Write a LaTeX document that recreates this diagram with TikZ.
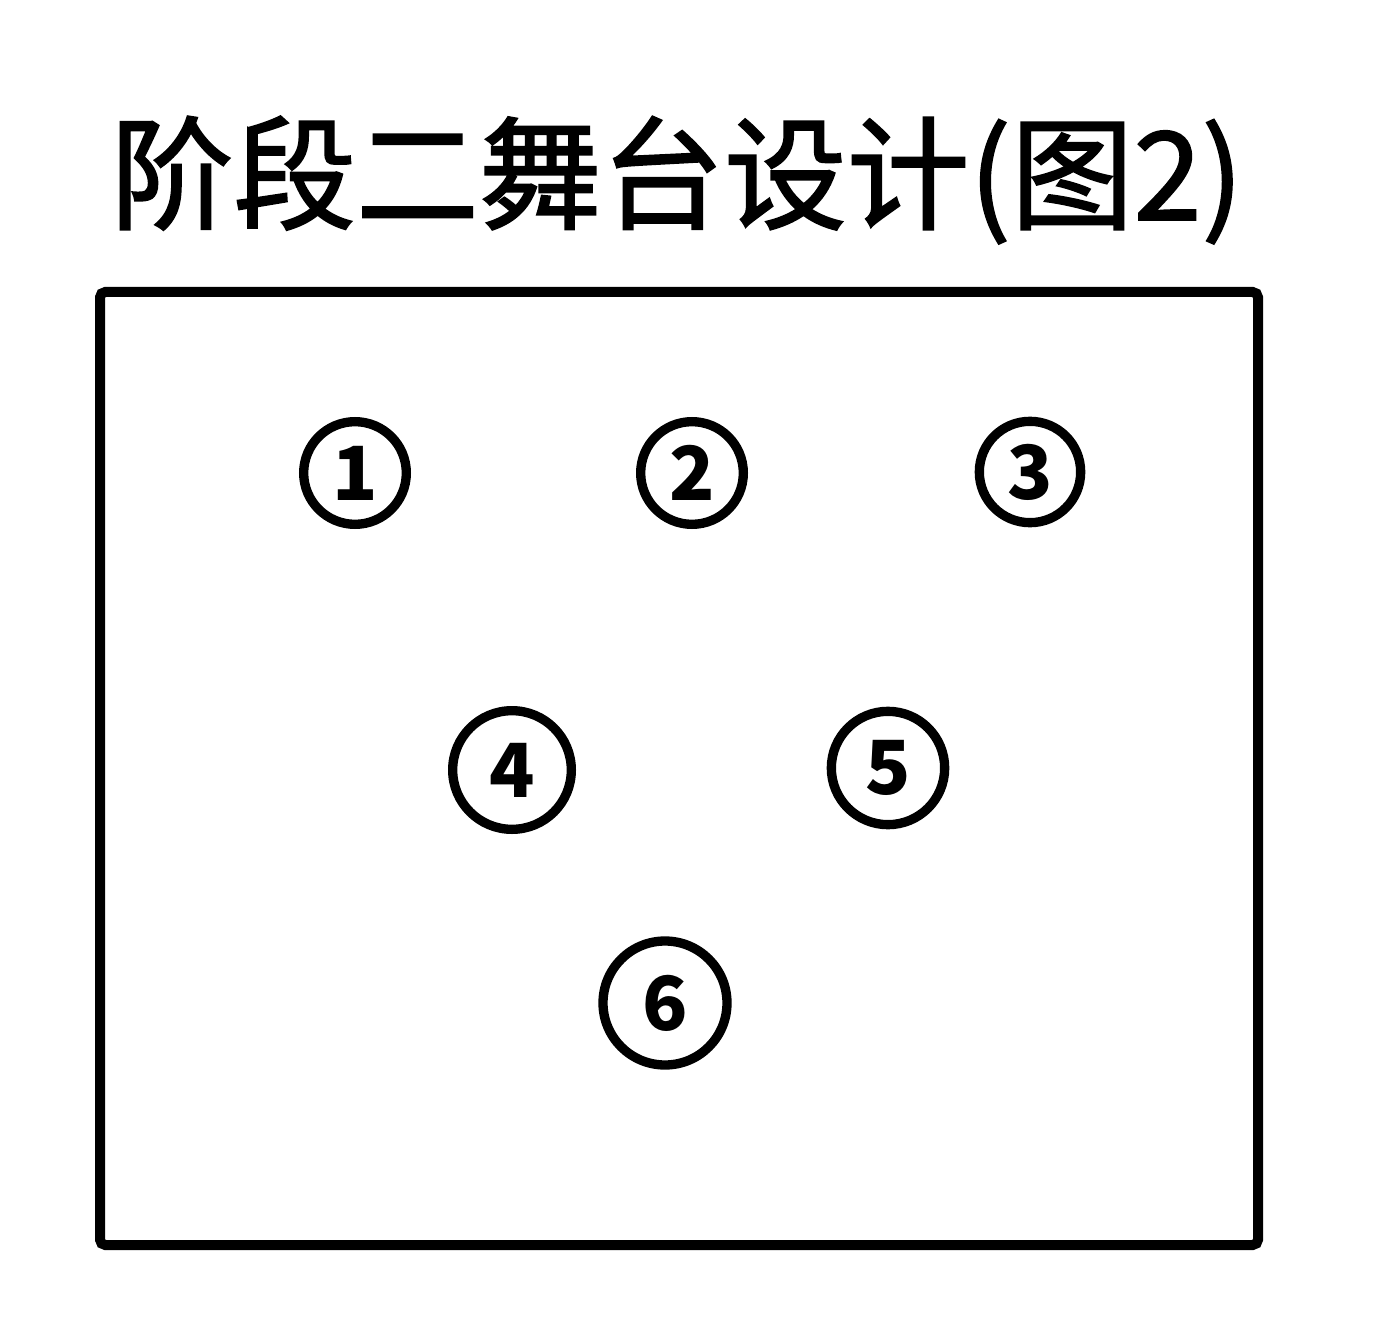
\documentclass[tikz,border=0pt]{standalone}
\usepackage{fontspec}
\usepackage{tikz}
\newfontfamily\cjk{Noto Sans CJK SC}

\begin{document}
\begin{tikzpicture}[x=0.75pt,y=0.75pt,yscale=-1,xscale=1]

\useasboundingbox (0,0) rectangle (1377,1344);

\draw  [line width=7.5pt][rounded corners=4pt]  (100,292) -- (1258,292) -- (1258,1245) -- (100,1245) -- cycle ;


\draw (677,180) node (title) [inner sep=0.75pt]   [align=left] {\fontsize{92}{100}\selectfont\cjk\addfontfeature{FakeBold=1.5} 阶段二舞台设计(图2)};

\draw (355,473) node (p1) [circle][draw][line width=7pt][minimum size=77pt][inner sep=0pt]   {\fontsize{56}{60}\selectfont\cjk\bfseries 1};
\draw (692,473) node (p2) [circle][draw][line width=7pt][minimum size=77pt][inner sep=0pt]   {\fontsize{56}{60}\selectfont\cjk\bfseries 2};
\draw (1030,472) node (p3) [circle][draw][line width=7pt][minimum size=76pt][inner sep=0pt]   {\fontsize{56}{60}\selectfont\cjk\bfseries 3};
\draw (512,770) node (p4) [circle][draw][line width=7pt][minimum size=89pt][inner sep=0pt]   {\fontsize{56}{60}\selectfont\cjk\bfseries 4};
\draw (888,768) node (p5) [circle][draw][line width=7pt][minimum size=85pt][inner sep=0pt]   {\fontsize{56}{60}\selectfont\cjk\bfseries 5};
\draw (665,1003) node (p6) [circle][draw][line width=7pt][minimum size=93pt][inner sep=0pt]   {\fontsize{56}{60}\selectfont\cjk\bfseries 6};


\end{tikzpicture}
\end{document}
